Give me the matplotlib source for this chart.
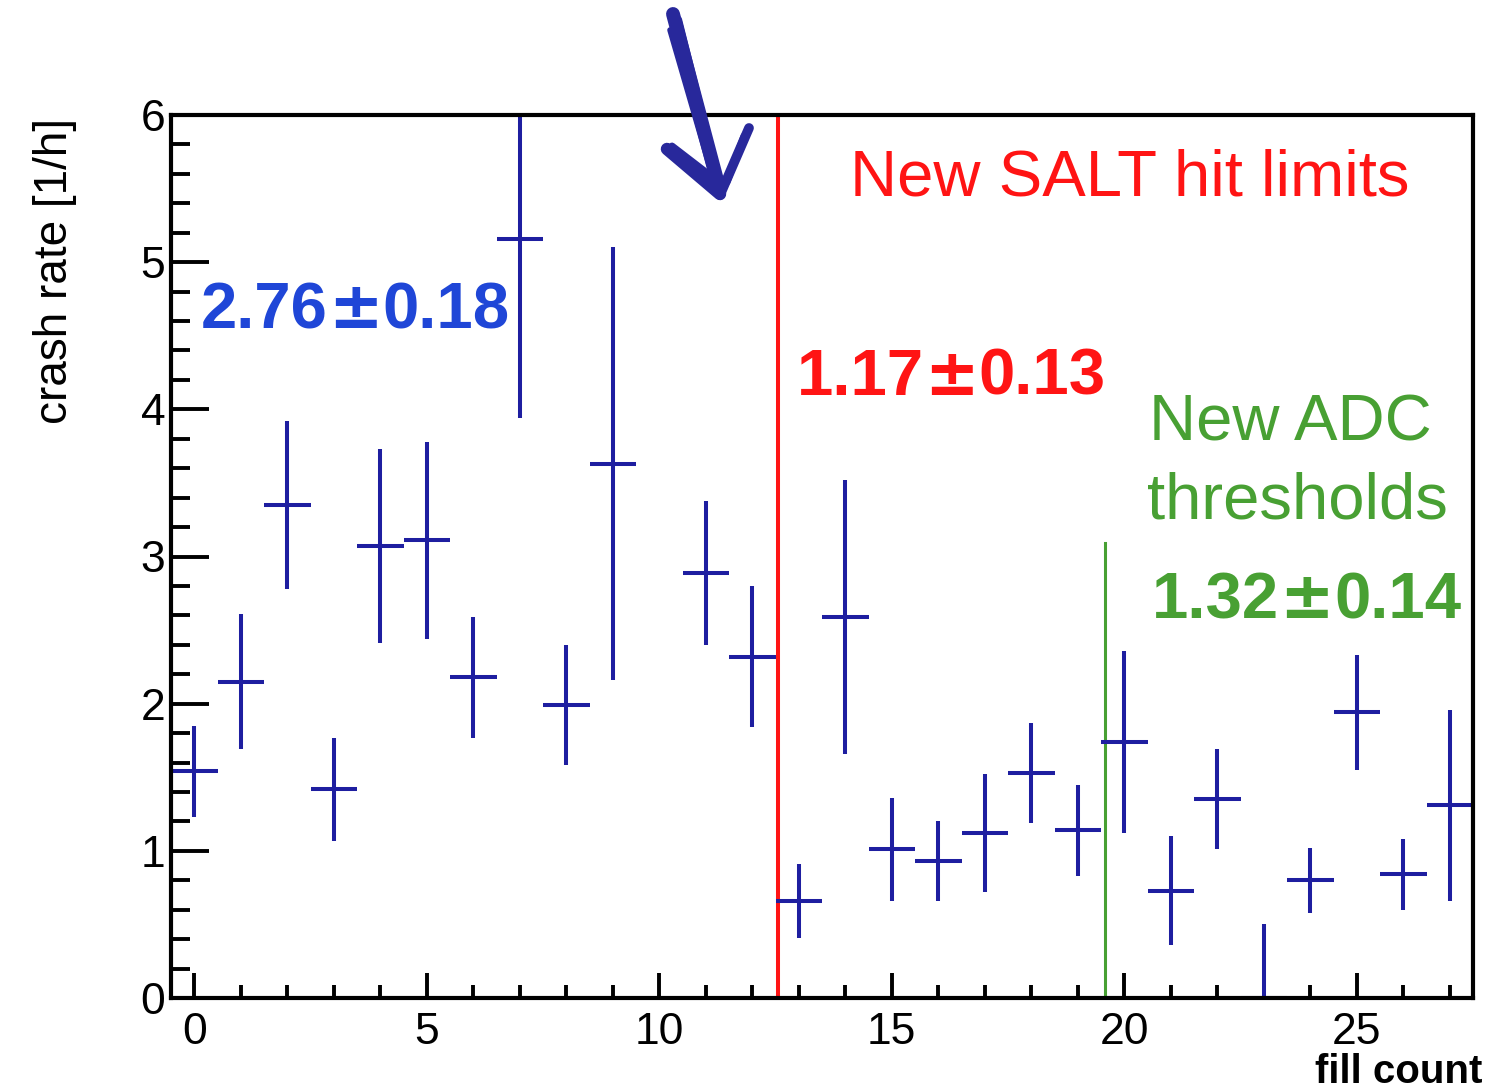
"""Crash rate per fill, with the fills before and after the SALT hit limit
and ADC threshold changes marked.
"""
import matplotlib.pyplot as plt
import numpy as np
from matplotlib.lines import Line2D
from matplotlib.ticker import MultipleLocator

plt.rcParams['font.family'] = ['Liberation Sans', 'DejaVu Sans']

# crash rate per fill [1/h] and its uncertainty; fill 10 is empty
fill = np.arange(28)
rate = [1.54, 2.15, 3.35, 1.42, 3.07, 3.11, 2.18, 5.16, 1.99, 3.63,
        np.nan, 2.89, 2.32, 0.66, 2.59, 1.01, 0.93, 1.12, 1.53, 1.14,
        1.74, 0.73, 1.35, 0.0, 0.80, 1.94, 0.84, 1.31]
rate_err = [0.31, 0.46, 0.57, 0.35, 0.66, 0.67, 0.41, 1.22, 0.41, 1.47,
            np.nan, 0.49, 0.48, 0.25, 0.93, 0.35, 0.27, 0.40, 0.34, 0.31,
            0.62, 0.37, 0.34, 0.50, 0.22, 0.39, 0.24, 0.65]
bin_half = 0.5

salt_change = 12.55   # new SALT hit limits from here on
adc_change = 19.59    # new ADC thresholds from here on
adc_line_top = 3.09

# mean rate in each period (value, error)
mean_before = ("2.76", "0.18")
mean_salt = ("1.17", "0.13")
mean_adc = ("1.32", "0.14")

NAVY = '#1e1ea0'
BLUE = '#1f46d7'
RED = '#ff1414'
GREEN = '#48a033'

W, H = 1485, 1092
fig = plt.figure(figsize=(W / 100, H / 100), dpi=100)
ax = fig.add_axes([171 / W, 1 - 998 / H, (1473 - 171) / W, (998 - 115) / H])

rate = np.array(rate)
rate_err = np.array(rate_err)
ok = ~np.isnan(rate)
ax.errorbar(fill[ok], rate[ok], yerr=rate_err[ok], xerr=bin_half,
            fmt='none', ecolor=NAVY, elinewidth=2.9, capsize=0, zorder=3)

ax.axvline(salt_change, color=RED, lw=2.9, zorder=2)
ax.plot([adc_change, adc_change], [0, adc_line_top], color=GREEN, lw=2.2, zorder=2)

ax.set_xlim(-0.5, 27.5)
ax.set_ylim(0, 6)

ax.xaxis.set_major_locator(MultipleLocator(5))
ax.xaxis.set_minor_locator(MultipleLocator(1))
ax.yaxis.set_major_locator(MultipleLocator(1))
ax.yaxis.set_minor_locator(MultipleLocator(0.2))
ax.tick_params(axis='both', which='both', direction='in', width=2.8,
               top=False, right=False, labelsize=32)
ax.tick_params(axis='x', which='major', length=18, pad=10)
ax.tick_params(axis='x', which='minor', length=9.5)
ax.tick_params(axis='y', which='major', length=27, pad=4)
ax.tick_params(axis='y', which='minor', length=14)
for side in ax.spines.values():
    side.set_linewidth(3)
    side.set_zorder(5)

renderer = fig.canvas.get_renderer()


def mean_label(x, y, value, color):
    """Bold "value±error" label; the ± comes from DejaVu Sans, which is wider."""
    parts = [(value[0], 'Liberation Sans'), ('±', 'DejaVu Sans'),
             (value[1], 'Liberation Sans')]
    for text, family in parts:
        t = ax.text(x, y, text, color=color, fontsize=47, fontweight='bold',
                    family=family, ha='left', va='baseline')
        right = t.get_window_extent(renderer).x1
        x = ax.transData.inverted().transform((right, 0))[0]


mean_label(0.15, 4.55, mean_before, BLUE)
mean_label(12.96, 4.10, mean_salt, RED)
mean_label(20.6, 2.58, mean_adc, GREEN)

ax.text(14.1, 5.455, "New SALT hit limits", color=RED, fontsize=47,
        ha='left', va='baseline')
ax.text(20.54, 3.79, "New ADC", color=GREEN, fontsize=47,
        ha='left', va='baseline')
ax.text(20.49, 3.26, "thresholds", color=GREEN, fontsize=47,
        ha='left', va='baseline')

fig.text(55 / W, 1 - 271 / H, "crash rate [1/h]", rotation=90,
         fontsize=33, ha='center', va='center')
fig.text(1482 / W, 1 - 1091 / H, "fill count", fontsize=29,
         fontweight='bold', ha='right', va='bottom')


# hand-drawn pen arrow pointing at the SALT change
def px(x, y):
    return x / W, 1 - y / H


PEN = '#28289b'
strokes = [
    ((673, 14), (717, 180), 10),
    ((678, 20), (721, 192), 6),
    ((670, 30), (712, 175), 4),
    ((667, 149), (720, 194), 9),
    ((672, 146), (724, 186), 5),
    ((749, 128), (720, 195), 7),
    ((744, 136), (727, 182), 5),
]
for (x0, y0), (x1, y1), lw in strokes:
    (fx0, fy0), (fx1, fy1) = px(x0, y0), px(x1, y1)
    fig.add_artist(Line2D([fx0, fx1], [fy0, fy1], transform=fig.transFigure,
                          color=PEN, lw=lw, solid_capstyle='round', zorder=10))

fig.savefig('out.png', dpi=100)
